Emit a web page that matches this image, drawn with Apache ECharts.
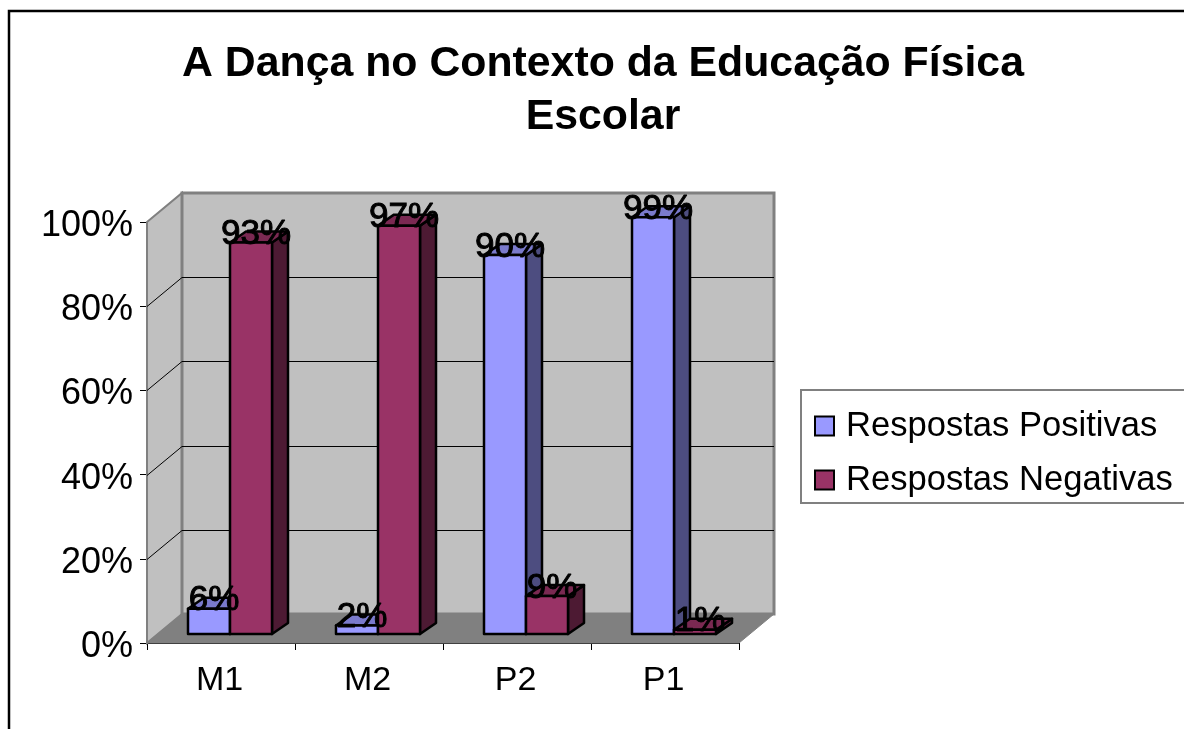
<!DOCTYPE html>
<html>
<head>
<meta charset="utf-8">
<title>A Dança no Contexto da Educação Física Escolar</title>
<script src="https://cdn.jsdelivr.net/npm/echarts@6/dist/echarts.min.js"></script>
<style>
html, body { margin: 0; padding: 0; background: #fff; }
#chart { width: 1184px; height: 729px; }
</style>
</head>
<body>
<div id="chart"></div>
<script>
const categories = ['M1', 'M2', 'P2', 'P1'];
const positivas = [6, 2, 90, 99];
const negativas = [93, 97, 9, 1];
const yTicks = [0, 20, 40, 60, 80, 100];

const font = '"Liberation Sans", Arial, sans-serif';
// fake 3d: how far the back wall and the bars sit from the front plane
const wallDx = 35, wallDy = 29;
const barShift = 9, barW = 42, barDx = 16, barDy = 11;

function renderWalls(params, api) {
    const cs = params.coordSys;
    const v = api.value(1);
    const y = Math.round(api.coord([0, v])[1]) + 0.5;
    const left = cs.x, right = cs.x + cs.width, top = cs.y, bottom = cs.y + cs.height;
    const children = [];
    if (params.dataIndex === 0) {
        // left wall + back wall + floor
        children.push({
            type: 'polygon',
            shape: { points: [[left, top], [left + wallDx, top - wallDy], [left + wallDx, bottom - wallDy], [left, bottom]] },
            style: { fill: '#c0c0c0', stroke: '#808080', lineWidth: 2 }
        });
        children.push({
            type: 'polygon',
            shape: { points: [[left + wallDx, top - wallDy], [right + wallDx, top - wallDy], [right + wallDx, bottom - wallDy], [left + wallDx, bottom - wallDy]] },
            style: { fill: '#c0c0c0', stroke: '#808080', lineWidth: 3 }
        });
        children.push({
            type: 'polygon',
            shape: { points: [[left, bottom], [right, bottom], [right + wallDx, bottom - wallDy], [left + wallDx, bottom - wallDy]] },
            style: { fill: '#808080', stroke: '#808080', lineWidth: 1 }
        });
    } else if (v < 100) {
        children.push({
            type: 'polyline',
            shape: { points: [[left, y], [left + wallDx, y - wallDy], [right + wallDx, y - wallDy]] },
            style: { fill: null, stroke: '#000', lineWidth: 1 }
        });
    }
    return { type: 'group', children: children };
}

function barRenderer(side, colors) {
    return function (params, api) {
        const i = api.value(0);
        const top = api.coord([i, api.value(1)]);
        const base = api.coord([i, 0]);
        const x0 = top[0] + barShift + (side < 0 ? -barW : 0);
        const x1 = x0 + barW;
        const yt = top[1] - barShift;
        const yb = base[1] - barShift;
        const border = { stroke: '#000', lineWidth: 2.5, lineJoin: 'round' };
        return {
            type: 'group',
            children: [
                { type: 'polygon', shape: { points: [[x1, yt], [x1 + barDx, yt - barDy], [x1 + barDx, yb - barDy], [x1, yb]] }, style: Object.assign({ fill: colors.side }, border) },
                { type: 'polygon', shape: { points: [[x0, yt], [x0 + barDx, yt - barDy], [x1 + barDx, yt - barDy], [x1, yt]] }, style: Object.assign({ fill: colors.top }, border) },
                { type: 'polygon', shape: { points: [[x0, yt], [x1, yt], [x1, yb], [x0, yb]] }, style: Object.assign({ fill: colors.front }, border) }
            ]
        };
    };
}

function labelRenderer(side) {
    return function (params, api) {
        const i = api.value(0);
        const top = api.coord([i, api.value(1)]);
        return {
            type: 'text',
            style: {
                x: top[0] + barShift + side * barW / 2 + 5,
                y: top[1] - barShift - 8,
                text: api.value(1) + '%',
                fill: '#000',
                stroke: '#000',
                lineWidth: 1,
                font: '35px ' + font,
                textAlign: 'center',
                textVerticalAlign: 'middle'
            }
        };
    };
}

const toPairs = arr => arr.map((v, i) => [i, v]);

const chart = echarts.init(document.getElementById('chart'), null, { renderer: 'canvas' });
chart.setOption({
    animation: false,
    title: {
        text: 'A Dança no Contexto da Educação Física\nEscolar',
        left: 598,
        top: 33,
        textAlign: 'center',
        textStyle: { fontFamily: font, fontSize: 42.8, fontWeight: 'bold', color: '#000', lineHeight: 53 }
    },
    graphic: [{
        type: 'polyline',
        silent: true,
        shape: { points: [[9, 729], [9, 11], [1184, 11]] },
        style: { fill: null, stroke: '#000', lineWidth: 2.5 }
    }],
    legend: {
        data: ['Respostas Positivas', 'Respostas Negativas'],
        orient: 'vertical',
        icon: 'rect',
        left: 801,
        top: 390,
        padding: [17, 30, 4, 13],
        itemWidth: 19,
        itemHeight: 19,
        itemGap: 16,
        borderColor: '#808080',
        borderWidth: 2,
        backgroundColor: '#fff',
        textStyle: { fontFamily: font, fontSize: 34.6, lineHeight: 38, color: '#000', padding: [0, 0, 0, 7] }
    },
    grid: { left: 147, right: 445, top: 222, bottom: 86 },
    xAxis: {
        type: 'category',
        data: categories,
        axisLine: { lineStyle: { color: '#000', width: 1 } },
        axisTick: { show: true, length: 7, lineStyle: { color: '#000' } },
        axisLabel: { fontFamily: font, fontSize: 34, color: '#000', margin: 21, padding: [0, 3, 0, 0] }
    },
    yAxis: {
        type: 'value',
        min: 0,
        max: 100,
        interval: 20,
        splitLine: { show: false },
        axisLine: { show: true, lineStyle: { color: '#000', width: 1 } },
        axisTick: { show: true, length: 7, lineStyle: { color: '#000' } },
        axisLabel: { fontFamily: font, fontSize: 36, color: '#000', margin: 14, verticalAlign: 'top', lineHeight: 8, formatter: '{value}%' }
    },
    series: [
        { type: 'custom', name: 'walls', z: 1, clip: false, silent: true, renderItem: renderWalls, data: yTicks.map(v => [0, v]) },
        {
            type: 'custom', name: 'Respostas Positivas', z: 3, clip: false,
            itemStyle: { color: '#9999ff', borderColor: '#000', borderWidth: 2 },
            renderItem: barRenderer(-1, { front: '#9999ff', side: '#4d4d80', top: '#7a7acc' }),
            data: toPairs(positivas)
        },
        {
            type: 'custom', name: 'Respostas Negativas', z: 4, clip: false,
            itemStyle: { color: '#993366', borderColor: '#000', borderWidth: 2 },
            renderItem: barRenderer(1, { front: '#993366', side: '#4d1a33', top: '#7a2952' }),
            data: toPairs(negativas)
        },
        { type: 'custom', name: 'rotulos1', z: 5, clip: false, silent: true, renderItem: labelRenderer(-1), data: toPairs(positivas) },
        { type: 'custom', name: 'rotulos2', z: 5, clip: false, silent: true, renderItem: labelRenderer(1), data: toPairs(negativas) }
    ]
});
</script>
</body>
</html>
